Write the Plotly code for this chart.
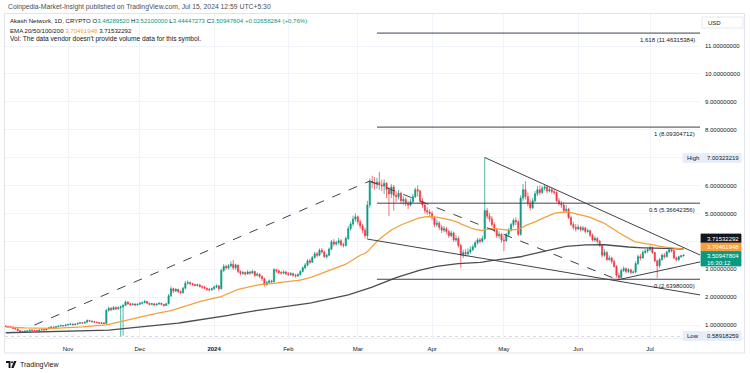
import numpy as np
import pandas as pd
import plotly.graph_objects as go

# ---------------- DATA ----------------
start_date = "2023-10-06"
end_date = "2024-07-15"
first_open = 0.96

close_oct = [0.95, 0.94, 0.93, 0.88, 0.86, 0.80, 0.77, 0.76, 0.78, 0.79, 0.82, 0.81, 0.80, 0.79, 0.82, 0.83,
             0.82, 0.86, 0.90, 0.93, 0.91, 0.94, 0.96, 0.98, 0.97, 1.00]
high_oct = [0.98, 0.97, 0.95, 0.94, 0.90, 0.87, 0.82, 0.79, 0.80, 0.81, 0.84, 0.84, 0.83, 0.82, 0.84, 0.85,
            0.85, 0.88, 0.92, 0.95, 0.95, 0.96, 0.98, 1.01, 1.00, 1.02]
low_oct = [0.93, 0.92, 0.91, 0.86, 0.84, 0.78, 0.75, 0.74, 0.75, 0.77, 0.78, 0.79, 0.78, 0.77, 0.78, 0.81,
           0.80, 0.81, 0.85, 0.89, 0.89, 0.90, 0.93, 0.95, 0.95, 0.96]

close_nov = [1.02, 1.04, 1.01, 1.03, 1.06, 1.08, 1.07, 1.10, 1.16, 1.14, 1.12, 1.10, 1.09, 1.06, 1.08, 1.05,
             1.52, 1.60, 1.55, 1.63, 1.58, 1.62, 1.65, 1.70, 1.82, 1.76, 1.73, 1.75, 1.72, 1.74]
high_nov = [1.04, 1.06, 1.05, 1.05, 1.08, 1.10, 1.10, 1.12, 1.20, 1.19, 1.16, 1.14, 1.12, 1.10, 1.10, 1.09,
            1.58, 1.66, 1.64, 1.68, 1.66, 1.67, 1.70, 1.75, 1.88, 1.85, 1.80, 1.79, 1.78, 1.78]
low_nov = [0.98, 1.00, 0.99, 1.00, 1.02, 1.05, 1.04, 1.06, 1.09, 1.12, 1.10, 1.08, 1.06, 1.04, 1.04, 1.03,
           1.05, 1.48, 1.50, 1.53, 1.54, 1.55, 0.58918259, 0.62, 1.68, 1.72, 1.68, 1.70, 1.68, 1.69]

close_dec = [1.78, 1.80, 1.84, 1.78, 1.74, 1.76, 1.72, 1.75, 1.78, 1.74, 1.70, 1.76, 2.05, 2.30, 2.22, 2.28,
             2.20, 2.16, 2.32, 2.50, 2.52, 2.48, 2.45, 2.42, 2.44, 2.38, 2.36, 2.32, 2.28, 2.26, 2.30]
high_dec = [1.82, 1.84, 1.90, 1.86, 1.80, 1.79, 1.78, 1.78, 1.81, 1.80, 1.76, 1.79, 2.12, 2.38, 2.34, 2.32,
            2.30, 2.24, 2.36, 2.58, 2.60, 2.56, 2.52, 2.48, 2.48, 2.46, 2.42, 2.40, 2.34, 2.32, 2.34]
low_dec = [1.72, 1.74, 1.78, 1.74, 1.70, 1.71, 1.68, 1.70, 1.73, 1.70, 1.66, 1.69, 1.74, 2.00, 2.15, 2.18,
           2.14, 2.10, 2.12, 2.28, 2.44, 2.42, 2.40, 2.38, 2.38, 2.34, 2.30, 2.28, 2.22, 2.20, 2.22]

close_jan = [2.36, 2.40, 2.30, 2.95, 3.10, 3.05, 3.12, 3.18, 3.05, 3.15, 2.92, 2.85, 2.88, 2.83, 2.90, 2.86,
             2.92, 2.78, 2.82, 2.74, 2.66, 2.45, 2.52, 2.58, 2.55, 2.98, 2.94, 2.88, 2.86, 2.90, 2.84]
high_jan = [2.42, 2.46, 2.44, 3.02, 3.18, 3.16, 3.18, 3.28, 3.33, 3.20, 3.16, 2.96, 2.94, 2.92, 2.96, 2.94,
            2.98, 2.94, 2.88, 2.86, 2.78, 2.70, 2.58, 2.64, 2.62, 3.04, 3.02, 2.98, 2.94, 2.96, 2.94]
low_jan = [2.26, 2.32, 2.22, 2.28, 2.90, 2.98, 3.00, 3.06, 2.98, 2.98, 2.86, 2.78, 2.80, 2.76, 2.80, 2.80,
           2.84, 2.72, 2.74, 2.68, 2.58, 2.38, 2.40, 2.48, 2.50, 2.52, 2.86, 2.82, 2.80, 2.82, 2.78]

close_feb = [2.80, 2.84, 2.78, 2.76, 2.80, 2.92, 3.05, 3.15, 3.30, 3.25, 3.42, 3.55, 3.50, 3.68, 3.62, 3.45,
             3.50, 3.72, 3.98, 3.90, 3.95, 4.02, 3.88, 3.85, 4.10, 4.45, 4.62, 4.80, 4.88]
high_feb = [2.90, 2.90, 2.88, 2.84, 2.86, 2.96, 3.10, 3.22, 3.36, 3.38, 3.48, 3.62, 3.62, 3.74, 3.76, 3.66,
            3.56, 3.78, 4.05, 4.08, 4.02, 4.12, 4.08, 3.95, 4.18, 4.55, 4.70, 4.92, 5.00]
low_feb = [2.76, 2.76, 2.72, 2.70, 2.72, 2.78, 2.88, 3.00, 3.10, 3.18, 3.22, 3.38, 3.42, 3.46, 3.55, 3.40,
           3.38, 3.46, 3.68, 3.82, 3.84, 3.88, 3.82, 3.78, 3.82, 4.05, 4.38, 4.55, 4.70]

close_mar = [4.70, 4.55, 4.40, 4.20, 5.30, 6.15, 6.10, 6.05, 6.12, 6.02, 5.98, 6.08, 5.85, 5.70, 5.95, 5.65,
             5.60, 5.72, 5.45, 5.50, 5.35, 5.30, 5.42, 5.60, 5.85, 5.80, 5.45, 5.30, 5.10, 5.05, 5.00]
high_mar = [4.92, 4.78, 4.62, 4.48, 5.45, 6.25, 6.35, 6.30, 6.28, 6.49, 6.20, 6.22, 6.12, 5.95, 6.05, 6.02,
            5.80, 5.85, 5.78, 5.62, 5.58, 5.45, 5.52, 5.70, 5.92, 6.00, 5.85, 5.55, 5.40, 5.22, 5.15]
low_mar = [4.60, 4.45, 4.30, 4.10, 4.08, 5.20, 5.90, 5.85, 5.88, 5.85, 5.80, 5.70, 5.55, 4.90, 5.55, 5.10,
           5.40, 5.50, 5.35, 5.30, 5.25, 5.15, 5.25, 5.38, 5.55, 5.60, 5.35, 5.20, 5.00, 4.95, 4.90]

close_apr = [4.85, 4.60, 4.65, 4.50, 4.40, 4.45, 4.35, 4.20, 4.30, 4.05, 4.10, 3.85, 3.50, 3.60, 3.55, 3.62,
             3.70, 3.80, 3.95, 4.05, 4.00, 4.10, 5.10, 4.90, 4.80, 4.60, 4.40, 4.20, 4.25, 4.05]
high_apr = [5.08, 4.90, 4.78, 4.72, 4.58, 4.55, 4.52, 4.42, 4.38, 4.35, 4.22, 4.18, 3.92, 3.70, 3.72, 3.75,
            3.82, 3.88, 4.02, 4.12, 4.12, 4.20, 7.00323219, 5.20, 5.02, 4.90, 4.68, 4.48, 4.36, 4.30]
low_apr = [4.75, 4.50, 4.52, 4.40, 4.30, 4.32, 4.25, 4.12, 4.15, 3.98, 3.98, 3.78, 3.05, 3.40, 3.45, 3.48,
           3.55, 3.65, 3.76, 3.88, 3.92, 3.95, 4.05, 4.80, 4.70, 4.52, 4.32, 4.12, 4.10, 3.95]

close_may = [4.02, 4.25, 4.40, 4.60, 4.75, 4.70, 4.25, 5.55, 5.85, 5.60, 5.35, 5.20, 5.45, 5.70, 5.85, 5.75,
             5.90, 5.95, 5.80, 5.85, 5.78, 5.75, 5.45, 5.35, 5.30, 5.10, 5.15, 4.85, 4.60, 4.50, 4.45]
high_may = [4.20, 4.30, 4.48, 4.66, 4.82, 4.85, 4.75, 5.65, 6.05, 6.15, 5.75, 5.50, 5.55, 5.80, 5.98, 6.00,
            5.98, 6.05, 6.02, 5.95, 5.92, 5.88, 5.80, 5.55, 5.45, 5.40, 5.30, 5.20, 4.92, 4.70, 4.62]
low_may = [3.65, 3.98, 4.18, 4.35, 4.52, 4.58, 4.18, 4.20, 5.45, 5.50, 5.25, 5.10, 5.15, 5.40, 5.62, 5.65,
           5.70, 5.82, 5.72, 5.75, 5.70, 5.68, 5.40, 5.28, 5.20, 5.02, 5.05, 4.80, 4.55, 4.42, 4.35]

close_jun = [4.50, 4.42, 4.48, 4.35, 4.38, 4.22, 4.05, 4.10, 4.00, 3.85, 3.50, 3.60, 3.35, 3.40, 3.28, 3.10,
             2.78, 2.70, 2.95, 3.02, 2.92, 2.98, 2.88, 2.90, 3.20, 3.45, 3.40, 3.60, 3.65, 3.70]
high_jun = [4.60, 4.55, 4.55, 4.52, 4.45, 4.42, 4.28, 4.18, 4.15, 4.05, 3.88, 3.72, 3.65, 3.50, 3.45, 3.35,
            3.15, 2.88, 3.02, 3.10, 3.06, 3.04, 3.00, 2.96, 3.28, 3.52, 3.55, 3.68, 3.72, 3.78]
low_jun = [4.40, 4.35, 4.36, 4.28, 4.30, 4.15, 4.00, 3.98, 3.92, 3.80, 3.42, 3.45, 3.30, 3.30, 3.20, 3.05,
           2.70, 2.62, 2.68, 2.90, 2.85, 2.86, 2.82, 2.84, 2.86, 3.15, 3.32, 3.38, 3.55, 3.58]

close_jul = [3.78, 3.60, 3.30, 3.12, 3.35, 3.50, 3.45, 3.62, 3.70, 3.66, 3.40, 3.34, 3.45, 3.48289520, 3.50947804]
high_jul = [3.85, 3.82, 3.62, 3.34, 3.40, 3.56, 3.58, 3.66, 3.75, 3.76, 3.70, 3.45, 3.48, 3.50, 3.52100000]
low_jul = [3.66, 3.55, 3.25, 2.68, 3.05, 3.30, 3.38, 3.42, 3.58, 3.60, 3.36, 3.28, 3.30, 3.40, 3.44447273]

# EMA settings (length, value at chart start)
ema50_len, ema50_seed = 50, 0.92
ema200_len, ema200_seed = 200, 0.72

# Axis ticks (labels hidden where the High / last-value tags sit)
month_ticks = ["2023-11-01", "2023-12-01", "2024-01-01", "2024-02-01", "2024-03-01",
               "2024-04-01", "2024-05-01", "2024-06-01", "2024-07-01"]
month_labels = ["Nov", "Dec", "<b>2024</b>", "Feb", "Mar", "Apr", "May", "Jun", "Jul"]
price_ticks = [1, 2, 3, 4, 5, 6, 7, 8, 9, 10, 11]
price_labels = ["1.00000000", "2.00000000", "3.00000000", "", "5.00000000", "6.00000000", "",
                "8.00000000", "9.00000000", "10.00000000", "11.00000000"]

# Drawings
fib_ratios = ["0", "0.5", "1", "1.618"]
fib_values = [2.63980000, 5.36642356, 8.09304712, 11.46315384]
fib_start = "2024-03-09"
fib_path_dates = ["2023-10-18", "2024-03-06", "2024-06-17"]
fib_path_prices = [1.00, 6.16, 2.64]
wedge_upper = (["2024-04-23", "2024-07-21 21:00"], [7.00323219, 3.51])
wedge_lower = (["2024-03-05", "2024-07-21 21:00"], [4.08, 2.08])
support_line = (["2024-06-17", "2024-07-21 21:00"], [2.61, 3.26])

high_value = 7.00323219
low_value = 0.58918259
last_o, last_h, last_l, last_c = 3.48289520, 3.52100000, 3.44447273, 3.50947804
change_abs, change_pct = 0.02658284, 0.76
ema_a_last, ema_b_last = 3.70461948, 3.71532292
countdown = "16:30:12"

# ---------------- BUILD ----------------
dates = pd.date_range(start_date, end_date, freq="D")
closes = np.array(close_oct + close_nov + close_dec + close_jan + close_feb + close_mar +
                  close_apr + close_may + close_jun + close_jul)
highs = np.array(high_oct + high_nov + high_dec + high_jan + high_feb + high_mar +
                 high_apr + high_may + high_jun + high_jul)
lows = np.array(low_oct + low_nov + low_dec + low_jan + low_feb + low_mar +
                low_apr + low_may + low_jun + low_jul)
opens = np.concatenate([[first_open], closes[:-1]])
highs = np.maximum(highs, np.maximum(opens, closes))
lows = np.minimum(lows, np.minimum(opens, closes))


def ema(values, length, seed):
    a = 2.0 / (length + 1)
    out, prev = [], seed
    for v in values:
        prev = a * v + (1 - a) * prev
        out.append(prev)
    return out


ema50 = ema(closes, ema50_len, ema50_seed)
ema200 = ema(closes, ema200_len, ema200_seed)

W, H = 750, 373
L, R, T, B = 5, 700, 14, 338
PW, PH = R - L, B - T
x_range = ["2023-10-05 16:40", "2024-07-21 21:00"]
y_range = [0.534, 12.147]


def px(x):
    return (x - L) / PW


def py(y):
    return (B - y) / PH


GREEN, RED = "#089981", "#F23645"
ORANGE = "#F5A03C"
DARK = "#131722"
LINEC = "#3f424a"
FONT = "Liberation Sans, Arial, sans-serif"

fig = go.Figure()
fig.add_trace(go.Candlestick(
    x=dates, open=opens, high=highs, low=lows, close=closes,
    increasing=dict(line=dict(color=GREEN, width=0.7), fillcolor=GREEN),
    decreasing=dict(line=dict(color=RED, width=0.7), fillcolor=RED),
    whiskerwidth=0, showlegend=False, hoverinfo="skip"))
fig.add_trace(go.Scatter(x=dates, y=ema200, mode="lines", line=dict(color="#4a4d55", width=1.3),
                         showlegend=False, hoverinfo="skip"))
fig.add_trace(go.Scatter(x=dates, y=ema50, mode="lines", line=dict(color=ORANGE, width=1.3),
                         showlegend=False, hoverinfo="skip"))

shapes = []
for v in (high_value, low_value):
    shapes.append(dict(type="line", xref="paper", yref="y", x0=0, x1=1, y0=v, y1=v,
                       line=dict(color="#c9ccd4", width=0.8, dash="dot"), layer="below"))
for v in fib_values:
    shapes.append(dict(type="line", xref="x", yref="y", x0=fib_start, x1=x_range[1], y0=v, y1=v,
                       line=dict(color=LINEC, width=1)))
for i in range(len(fib_path_dates) - 1):
    shapes.append(dict(type="line", xref="x", yref="y",
                       x0=fib_path_dates[i], y0=fib_path_prices[i],
                       x1=fib_path_dates[i + 1], y1=fib_path_prices[i + 1],
                       line=dict(color=LINEC, width=1, dash="dash")))
for d, p in (wedge_upper, wedge_lower, support_line):
    shapes.append(dict(type="line", xref="x", yref="y", x0=d[0], y0=p[0], x1=d[1], y1=p[1],
                       line=dict(color=LINEC, width=1)))

shapes.append(dict(type="rect", xref="paper", yref="paper", x0=px(4.5), x1=px(744.5),
                   y0=py(353), y1=py(13.5), line=dict(color="#e0e3eb", width=1), layer="below"))
shapes.append(dict(type="line", xref="paper", yref="paper", x0=px(4.5), x1=px(744.5),
                   y0=py(338.5), y1=py(338.5), line=dict(color="#eef0f4", width=1), layer="below"))

annotations = []


def txt(x, y, s, size=6, color=DARK, xanchor="left", yanchor="middle"):
    annotations.append(dict(xref="paper", yref="paper", x=px(x), y=py(y), text=s,
                            showarrow=False, xanchor=xanchor, yanchor=yanchor,
                            font=dict(size=size, color=color, family=FONT)))


txt(6, 7, "Coinpedia-Market-Insight published on TradingView.com, Jul 15, 2024 12:59 UTC+5:30",
    size=6.8, color="#4a4e59")
g = lambda s: f"<span style='color:{GREEN}'>{s}</span>"
txt(8, 21, "Akash Network, 1D, CRYPTO O" + g(f"{last_o:.8f}") + " H" + g(f"{last_h:.8f}") +
    " L" + g(f"{last_l:.8f}") + " C" + g(f"{last_c:.8f}") + " " + g(f"+{change_abs:.8f} (+{change_pct:.2f}%)"),
    size=6.1)
txt(8, 30, f"EMA 20/50/100/200 <span style='color:{ORANGE}'>{ema_a_last:.8f}</span> {ema_b_last:.8f}",
    size=6.1)
txt(8, 39, "Vol: The data vendor doesn't provide volume data for this symbol.", size=6.6)

for r, v in zip(fib_ratios, fib_values):
    annotations.append(dict(xref="paper", yref="y", x=px(697), y=v, yshift=-7,
                            text=f"{r} ({v:.8f})", showarrow=False, xanchor="right",
                            font=dict(size=6, color=DARK, family=FONT)))


def box(y0, y1, fill, x0=701, x1=741, line=None):
    shapes.append(dict(type="rect", xref="paper", yref="paper", x0=px(x0), x1=px(x1),
                       y0=py(y1), y1=py(y0), fillcolor=fill,
                       line=dict(color=line or fill, width=0.8)))


box(17, 28, "white", 702, 743, "#e0e3eb")
txt(706, 22.5, "USD")
box(153.5, 162.5, "#e6edf8", 683, 741)
txt(685, 158, "High")
txt(705, 158, f"{high_value:.8f}")
box(331.5, 340.5, "#e6edf8", 683, 741)
txt(685, 336, "Low")
txt(705, 336, f"{low_value:.8f}")
box(234, 243, DARK)
txt(705, 238.5, f"{ema_b_last:.8f}", color="white")
box(243, 251.5, ORANGE)
txt(705, 247.3, f"{ema_a_last:.8f}", color="white")
box(251.5, 266, GREEN)
txt(705, 255.5, f"{last_c:.8f}", color="white")
txt(705, 262.5, countdown, color="white")

shapes.append(dict(type="path", xref="paper", yref="paper",
                   path=f"M {px(6)},{py(361)} L {px(10.5)},{py(361)} L {px(10.5)},{py(368)} L {px(8.6)},{py(368)} "
                        f"L {px(8.6)},{py(363)} L {px(6)},{py(363)} Z",
                   fillcolor="#131722", line=dict(width=0)))
shapes.append(dict(type="circle", xref="paper", yref="paper", x0=px(11), x1=px(13), y0=py(363.2), y1=py(361.2),
                   fillcolor="#131722", line=dict(width=0)))
shapes.append(dict(type="path", xref="paper", yref="paper",
                   path=f"M {px(14)},{py(361)} L {px(16.5)},{py(361)} L {px(13.6)},{py(368)} L {px(11.2)},{py(368)} Z",
                   fillcolor="#131722", line=dict(width=0)))
txt(18, 364.5, "TradingView", size=7, color="#131722")

fig.update_layout(
    width=W, height=H, margin=dict(l=L, r=W - R, t=T, b=H - B),
    paper_bgcolor="white", plot_bgcolor="white",
    font=dict(family=FONT, size=6, color=DARK),
    showlegend=False, shapes=shapes, annotations=annotations, hovermode=False,
    xaxis=dict(type="date", range=x_range, rangeslider=dict(visible=False),
               tickvals=month_ticks, ticktext=month_labels, showgrid=True, gridcolor="#f0f3fa",
               gridwidth=1, zeroline=False, showline=False, ticks="", ticklabelstandoff=6,
               tickfont=dict(size=6, color=DARK)),
    yaxis=dict(range=y_range, side="right", tickvals=price_ticks,
               ticktext=price_labels, showgrid=True, gridcolor="#f0f3fa",
               zeroline=False, showline=False, ticks="", ticklabelstandoff=4,
               tickfont=dict(size=6, color=DARK)),
)

fig.write_html("out.html", config={"displayModeBar": False, "staticPlot": True},
               post_script="document.body.style.margin='0';document.body.style.overflow='hidden';")
